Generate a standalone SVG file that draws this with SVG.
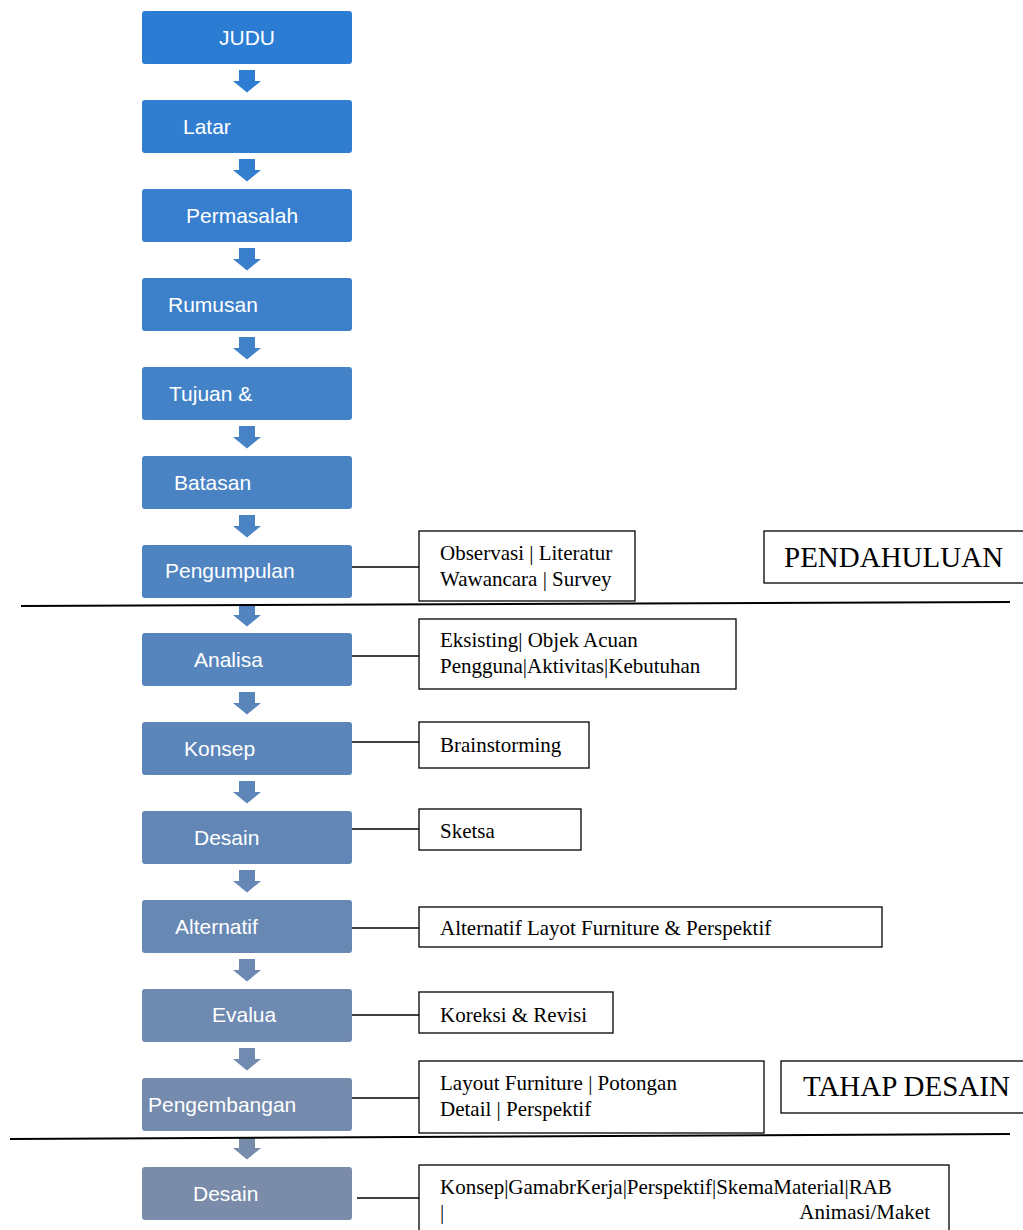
<svg xmlns="http://www.w3.org/2000/svg" width="1023" height="1230" viewBox="0 0 1023 1230">
<style>
.box{stroke:none}
.bt{font-family:"Liberation Sans",Arial,sans-serif;font-size:21px;fill:#ffffff}
.nb{fill:#ffffff;stroke:#000000;stroke-width:1.3}
.nt{font-family:"Liberation Serif","Times New Roman",serif;font-size:21px;fill:#000000}
.big{font-family:"Liberation Serif","Times New Roman",serif;font-size:29px;fill:#000000}
.ln{stroke:#000000;stroke-width:1.6;fill:none}
.sep{stroke:#000000;stroke-width:2;fill:none}
</style>
<defs>
<path id="arr" d="M-8,0 H8 V11 H14 L0,22.5 L-14,11 H-8 Z"/>
</defs>
<rect width="1023" height="1230" fill="#ffffff"/>

<g id="connectors">
<use href="#arr" x="247" y="70" fill="#2E7DD2"/>
<use href="#arr" x="247" y="159" fill="#347ECF"/>
<use href="#arr" x="247" y="248" fill="#3A7FCC"/>
<use href="#arr" x="247" y="337" fill="#4081C8"/>
<use href="#arr" x="247" y="426" fill="#4682C5"/>
<use href="#arr" x="247" y="515" fill="#4C83C2"/>
<use href="#arr" x="247" y="604" fill="#5284BF"/>
<use href="#arr" x="247" y="692" fill="#5985BB"/>
<use href="#arr" x="247" y="781" fill="#5F86B8"/>
<use href="#arr" x="247" y="870" fill="#6587B5"/>
<use href="#arr" x="247" y="959" fill="#6B89B2"/>
<use href="#arr" x="247" y="1048" fill="#718AAF"/>
<use href="#arr" x="247" y="1137" fill="#778BAB"/>
<line class="ln" x1="352" y1="567" x2="419" y2="567"/>
<line class="ln" x1="352" y1="656" x2="419" y2="656"/>
<line class="ln" x1="352" y1="742" x2="419" y2="742"/>
<line class="ln" x1="352" y1="829" x2="419" y2="829"/>
<line class="ln" x1="352" y1="928" x2="419" y2="928"/>
<line class="ln" x1="349" y1="1015" x2="419" y2="1015"/>
<line class="ln" x1="352" y1="1098" x2="419" y2="1098"/>
<line class="ln" x1="357" y1="1198" x2="423" y2="1198"/>
<line class="sep" x1="21" y1="606" x2="1010" y2="602"/>
<line class="sep" x1="10" y1="1139" x2="1010" y2="1134"/>
</g>

<g id="n-judu"><rect class="box" x="142" y="11" width="210" height="53" rx="3" fill="#2B7DD4"/><text class="bt" x="219" y="45">JUDU</text></g>
<g id="n-latar"><rect class="box" x="142" y="100" width="210" height="53" rx="3" fill="#317ED1"/><text class="bt" x="183" y="133.5">Latar</text></g>
<g id="n-permasalah"><rect class="box" x="142" y="189" width="210" height="53" rx="3" fill="#377FCE"/><text class="bt" x="186" y="222.5">Permasalah</text></g>
<g id="n-rumusan"><rect class="box" x="142" y="278" width="210" height="53" rx="3" fill="#3D80CA"/><text class="bt" x="168" y="311.5">Rumusan</text></g>
<g id="n-tujuan"><rect class="box" x="142" y="367" width="210" height="53" rx="3" fill="#4382C7"/><text class="bt" x="169" y="400.5">Tujuan &amp;</text></g>
<g id="n-batasan"><rect class="box" x="142" y="456" width="210" height="53" rx="3" fill="#4983C4"/><text class="bt" x="174" y="489.5">Batasan</text></g>
<g id="n-pengumpulan"><rect class="box" x="142" y="545" width="210" height="53" rx="3" fill="#4F84C1"/><text class="bt" x="165" y="578">Pengumpulan</text></g>
<g id="n-analisa"><rect class="box" x="142" y="633" width="210" height="53" rx="3" fill="#5685BD"/><text class="bt" x="194" y="666.5">Analisa</text></g>
<g id="n-konsep"><rect class="box" x="142" y="722" width="210" height="53" rx="3" fill="#5C86BA"/><text class="bt" x="184" y="755.5">Konsep</text></g>
<g id="n-desain1"><rect class="box" x="142" y="811" width="210" height="53" rx="3" fill="#6287B7"/><text class="bt" x="194" y="844.5">Desain</text></g>
<g id="n-alternatif"><rect class="box" x="142" y="900" width="210" height="53" rx="3" fill="#6888B4"/><text class="bt" x="175" y="933.5">Alternatif</text></g>
<g id="n-evalua"><rect class="box" x="142" y="989" width="210" height="53" rx="3" fill="#6E8AB1"/><text class="bt" x="212" y="1022">Evalua</text></g>
<g id="n-pengembangan"><rect class="box" x="142" y="1078" width="210" height="53" rx="3" fill="#748BAD"/><text class="bt" x="148" y="1111.5">Pengembangan</text></g>
<g id="n-desain2"><rect class="box" x="142" y="1167" width="210" height="53" rx="3" fill="#7A8CAA"/><text class="bt" x="193" y="1200.5">Desain</text></g>

<g id="d-observasi"><rect class="nb" x="419" y="531" width="216" height="70"/><text class="nt" x="440" y="560">Observasi | Literatur</text><text class="nt" x="440" y="586">Wawancara | Survey</text></g>
<g id="l-pendahuluan"><rect class="nb" x="764" y="531" width="270" height="52"/><text class="big" x="784" y="567">PENDAHULUAN</text></g>
<g id="d-eksisting"><rect class="nb" x="419" y="619" width="317" height="70"/><text class="nt" x="440" y="647">Eksisting| Objek Acuan</text><text class="nt" x="440" y="673">Pengguna|Aktivitas|Kebutuhan</text></g>
<g id="d-brainstorming"><rect class="nb" x="419" y="722" width="170" height="46"/><text class="nt" x="440" y="752">Brainstorming</text></g>
<g id="d-sketsa"><rect class="nb" x="419" y="809" width="162" height="41"/><text class="nt" x="440" y="838">Sketsa</text></g>
<g id="d-alternatif"><rect class="nb" x="419" y="907" width="463" height="40"/><text class="nt" x="440" y="935">Alternatif Layot Furniture &amp; Perspektif</text></g>
<g id="d-koreksi"><rect class="nb" x="419" y="992" width="194" height="41"/><text class="nt" x="440" y="1022">Koreksi &amp; Revisi</text></g>
<g id="d-layout"><rect class="nb" x="419" y="1061" width="345" height="72"/><text class="nt" x="440" y="1090">Layout Furniture | Potongan</text><text class="nt" x="440" y="1116">Detail | Perspektif</text></g>
<g id="l-tahap"><rect class="nb" x="781" y="1061" width="260" height="52"/><text class="big" x="803" y="1096">TAHAP DESAIN</text></g>
<g id="d-konsep"><rect class="nb" x="419" y="1165" width="530" height="80"/><text class="nt" x="440" y="1194">Konsep|GamabrKerja|Perspektif|SkemaMaterial|RAB</text><text class="nt" x="440" y="1219">|</text><text class="nt" x="930" y="1219" text-anchor="end">Animasi/Maket</text></g>
</svg>
